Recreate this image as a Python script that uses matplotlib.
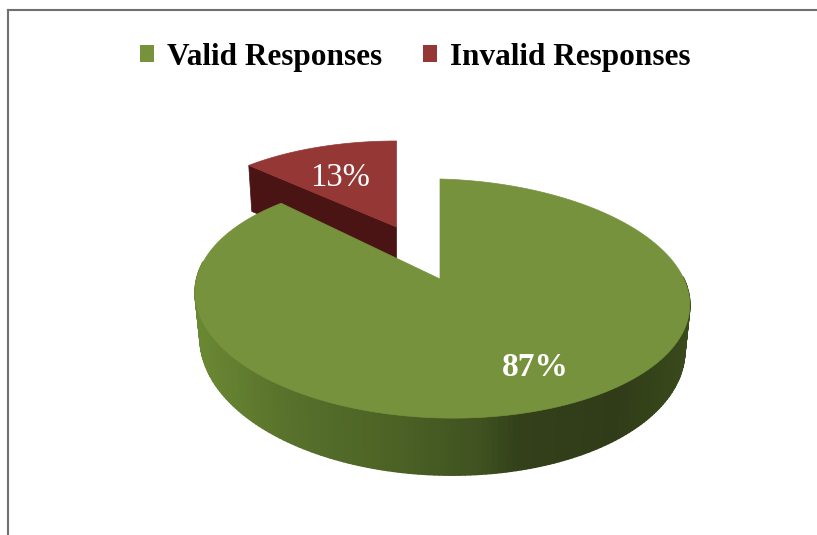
import numpy as np
import matplotlib.pyplot as plt
from matplotlib.collections import PolyCollection
from matplotlib.colors import LinearSegmentedColormap
from matplotlib.patches import Patch, Polygon

labels = ['Valid Responses', 'Invalid Responses']
values = [87, 13]
pct_labels = ['87%', '13%']

green = '#76923c'
red = '#953735'
red_dark = '#4a1414'

W, H = 817, 535
plt.rcParams['font.family'] = ['Liberation Serif', 'DejaVu Serif']

fig = plt.figure(figsize=(W / 100, H / 100), dpi=100)
# axes run in image pixels, frame only on top and left like the original
ax = fig.add_axes([8 / W, 0, 1 - 8 / W, 1 - 10 / H])
ax.set_xlim(8, W)
ax.set_ylim(H, 10)
ax.set_xticks([])
ax.set_yticks([])
ax.spines['right'].set_visible(False)
ax.spines['bottom'].set_visible(False)
ax.spines['top'].set_color('#707070')
ax.spines['left'].set_color('#707070')
ax.spines['top'].set_linewidth(1.5)
ax.spines['left'].set_linewidth(1.5)

K = 0.163     # perspective strength
RX = 244.0
RY = 116.3


def project(theta, cx, cy, sx=1.0, sy=1.0, tilt=0.026):
    # theta in degrees, clockwise from 12 o'clock
    t = np.radians(theta)
    u, v = np.sin(t), np.cos(t)
    x = sx * RX * u * (1 + 0.01 * u) / (1 + K * v)
    y = -sy * RY * v / (1 + K * v)
    return cx + x, cy + y + tilt * x


def depth(theta):
    # wall looks taller at the front than at the back
    return 43 - 14 * np.cos(np.radians(theta))


green_end = 360 * values[0] / sum(values)
theta_g = np.linspace(0, green_end, 300)
theta_r = np.linspace(green_end, 360, 60)

# exploded red slice goes first, the green one sits in front of it
rx, ry = project(theta_r, 396.5, 227, 0.93, 0.86, tilt=0)
wall = [(rx[0], ry[0]), (396.5, 227), (396.5, 227 + 46), (rx[0] + 3, ry[0] + 46)]
ax.add_patch(Polygon(wall, closed=True, fc=red_dark, ec=red_dark, lw=0.5))
ax.add_patch(Polygon(np.column_stack([np.r_[396.5, rx], np.r_[227, ry]]),
                     closed=True, fc=red, ec=red, lw=0.5))

# green side wall, shaded strip by strip, only the part facing the viewer
gx, gy = project(theta_g, 440, 279)
side_cmap = LinearSegmentedColormap.from_list('side', [
    (0.00, '#6a8833'), (0.20, '#57702b'), (0.41, '#4c6225'), (0.58, '#3f5220'),
    (0.66, '#33401a'), (0.86, '#303c18'), (1.00, '#3a4a1c')])
low_x = 442 + (gx - 442) * 0.98
low_y = gy + depth(theta_g)
quads = []
shades = []
for i in range(len(theta_g) - 1):
    if theta_g[i] < 85 or theta_g[i] > 275:
        continue
    quads.append([(gx[i], gy[i]), (gx[i + 1], gy[i + 1]),
                  (low_x[i + 1], low_y[i + 1]), (low_x[i], low_y[i])])
    shades.append(side_cmap((gx[i] - 195) / 495))
ax.add_collection(PolyCollection(quads, facecolors=shades, edgecolors=shades, linewidths=1.2))

ax.add_patch(Polygon(np.column_stack([np.r_[440, gx], np.r_[279, gy]]),
                     closed=True, fc=green, ec=green, lw=0.5))

ax.text(535, 367, pct_labels[0], color='white', fontsize=24, fontweight='bold',
        ha='center', va='center')
ax.text(340, 178, pct_labels[1], color='white', fontsize=23.5, ha='center', va='center')

handles = [Patch(fc=green, ec='none'), Patch(fc=red, ec='none')]
ax.legend(handles, labels, ncol=2, loc='center', bbox_to_anchor=(415, 57.5),
          bbox_transform=ax.transData, frameon=False,
          prop={'size': 22.5, 'weight': 'bold'},
          handlelength=0.45, handleheight=0.45, handletextpad=0.42, columnspacing=1.3)

fig.savefig('out.png', dpi=100)
